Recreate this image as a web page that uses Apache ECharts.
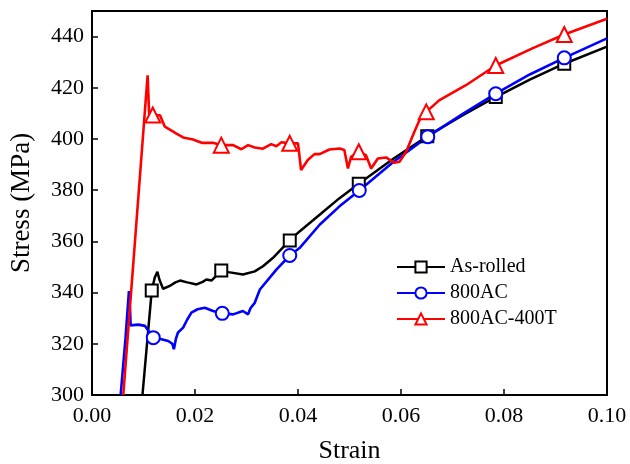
<!DOCTYPE html>
<html>
<head>
<meta charset="utf-8">
<title>Stress-strain curves</title>
<script src="https://cdn.jsdelivr.net/npm/echarts@6/dist/echarts.min.js"></script>
<style>
  html, body { margin: 0; padding: 0; background: #fff; }
  #chart { width: 630px; height: 464px; }
</style>
</head>
<body>
<div id="chart"></div>
<script>
// Engineering stress-strain data, [strain, stress in MPa]
const seriesNames = ['As-rolled', '800AC', '800AC-400T'];

const asRolled = [
  [0.0098, 300], [0.0116, 340.8], [0.0122, 346], [0.0127, 348.1], [0.0131, 345],
  [0.0138, 341.5], [0.015, 342.5], [0.0162, 344], [0.0171, 344.7], [0.0185, 344],
  [0.0203, 343.2], [0.0215, 344.2], [0.0222, 345.1], [0.0232, 344.7], [0.0251, 348.6],
  [0.0265, 348], [0.0293, 347.1], [0.0316, 348.3], [0.0332, 350.3], [0.0351, 353.5],
  [0.0384, 360.4], [0.0403, 363.9], [0.0442, 370.4], [0.048, 376.8], [0.0518, 382.5],
  [0.0585, 392.3], [0.0651, 401.1], [0.072, 409.3], [0.0784, 416.4], [0.085, 423.2],
  [0.0917, 429.4], [0.1, 436.1]
];
const asRolledMarks = [0.0116, 0.0251, 0.0384, 0.0518, 0.0651, 0.0784, 0.0917];

const ac800 = [
  [0.00556, 300], [0.0065, 322], [0.00717, 340.6], [0.0074, 333], [0.0075, 327.2],
  [0.009, 327.5], [0.0103, 327], [0.0119, 322.4], [0.0135, 321.8], [0.0148, 321.1],
  [0.0156, 320], [0.0159, 317.9], [0.0163, 322], [0.0167, 324.4], [0.0177, 326.3],
  [0.0185, 329.5], [0.0193, 332.2], [0.0205, 333.5], [0.0219, 334.1], [0.0235, 332.8],
  [0.0253, 331.9], [0.0274, 331.5], [0.0293, 332.8], [0.0303, 331.5], [0.0308, 334],
  [0.0316, 336], [0.0326, 341.2], [0.0358, 349], [0.0384, 354.5], [0.0403, 357.4],
  [0.0442, 366.5], [0.048, 373.6], [0.0519, 379.9], [0.0585, 391], [0.0652, 400.9],
  [0.072, 409.8], [0.0784, 417.7], [0.085, 425.2], [0.0917, 431.7], [0.1, 439.3]
];
const ac800Marks = [0.0119, 0.0253, 0.0384, 0.0519, 0.0652, 0.0784, 0.0917];

const ac800t400 = [
  [0.00607, 300], [0.0108, 424.9], [0.0111, 409.5], [0.0118, 409.4], [0.0132, 409.3],
  [0.01415, 404.8], [0.0164, 402.1], [0.0177, 400.6], [0.0196, 399.8], [0.0213, 398.5],
  [0.0235, 398.5], [0.0251, 397.6], [0.0274, 397.6], [0.029, 396], [0.0303, 397.6],
  [0.0316, 396.7], [0.0332, 396.2], [0.0348, 398], [0.0358, 397.2], [0.0368, 398.7],
  [0.0384, 398.3], [0.04, 398.3], [0.0406, 387.9], [0.0419, 391.8], [0.0432, 394.1],
  [0.0442, 394.1], [0.0461, 395.9], [0.0481, 396.3], [0.049, 395.7], [0.0497, 388.5],
  [0.0503, 393], [0.0518, 395], [0.0532, 393.7], [0.0542, 388.5], [0.0555, 392.4],
  [0.0571, 392.8], [0.0587, 390.7], [0.0597, 391.1], [0.061, 395], [0.0626, 402.8],
  [0.0636, 407.4], [0.0649, 410.6], [0.0674, 415.1], [0.0726, 421], [0.0784, 428.7],
  [0.0855, 435.4], [0.0917, 440.8], [0.1, 447]
];
const ac800t400Marks = [0.0118, 0.0251, 0.0384, 0.0518, 0.0649, 0.0784, 0.0917];

const xTicks = [0, 0.02, 0.04, 0.06, 0.08, 0.10];
const yTicks = [300, 320, 340, 360, 380, 400, 420, 440];

const FONT = 'Liberation Serif, Times New Roman, serif';

function curve(name, points, marks, color, symbol, size, width) {
  return {
    name: name,
    type: 'line',
    data: points,
    symbol: symbol,
    showSymbol: true,
    showAllSymbol: true,
    symbolSize: function (value) {
      return marks.indexOf(value[0]) >= 0 ? size : 0;
    },
    lineStyle: { color: color, width: width },
    itemStyle: { color: color, borderColor: color, borderWidth: 2.5 },
    emphasis: { disabled: true },
    animation: false
  };
}

const chart = echarts.init(document.getElementById('chart'), null, { renderer: 'canvas' });

chart.setOption({
  backgroundColor: '#fff',
  animation: false,
  grid: {
    left: 92, right: 23, top: 11, bottom: 69,
    containLabel: false,
    outerBoundsMode: 'none',
    show: true, borderColor: '#000', borderWidth: 2
  },
  legend: {
    orient: 'vertical',
    left: 391, top: 252,
    itemWidth: 48, itemHeight: 14, itemGap: 6,
    textStyle: { fontFamily: FONT, fontSize: 20, color: '#000' },
    data: seriesNames
  },
  xAxis: {
    type: 'value',
    min: xTicks[0], max: xTicks[xTicks.length - 1], interval: 0.02,
    name: 'Strain', nameLocation: 'middle', nameGap: 43,
    nameTextStyle: { fontFamily: FONT, fontSize: 26, color: '#000' },
    axisLine: { show: true, lineStyle: { color: '#000', width: 2 } },
    axisTick: { show: true, inside: true, length: 6, lineStyle: { color: '#000', width: 1.5 } },
    axisLabel: {
      margin: 10, fontFamily: FONT, fontSize: 22, color: '#000',
      formatter: v => v.toFixed(2)
    },
    splitLine: { show: false }
  },
  yAxis: {
    type: 'value',
    min: yTicks[0], max: 450, interval: 20,
    name: 'Stress (MPa)', nameLocation: 'middle', nameGap: 57,
    nameTextStyle: { fontFamily: FONT, fontSize: 27, color: '#000' },
    axisLine: { show: true, lineStyle: { color: '#000', width: 2 } },
    axisTick: { show: true, inside: true, length: 6, lineStyle: { color: '#000', width: 1.5 } },
    axisLabel: {
      margin: 8, fontFamily: FONT, fontSize: 22, color: '#000',
      showMaxLabel: false,
      formatter: v => (yTicks.indexOf(v) >= 0 ? String(v) : '')
    },
    splitLine: { show: false }
  },
  series: [
    curve(seriesNames[0], asRolled, asRolledMarks, '#000000', 'emptyRect', 12, 2.5),
    curve(seriesNames[1], ac800, ac800Marks, '#0000ff', 'emptyCircle', 13, 2.6),
    curve(seriesNames[2], ac800t400, ac800t400Marks, '#ff0000', 'emptyTriangle', 15, 2.6)
  ]
});
</script>
</body>
</html>
